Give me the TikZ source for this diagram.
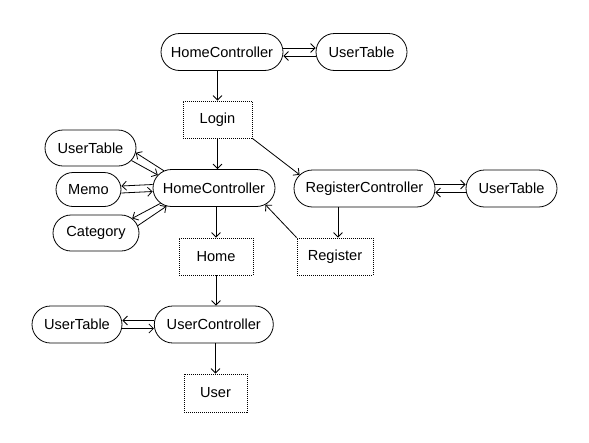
\documentclass[tikz,border=0pt]{standalone}
\usepackage{fontspec}
\setmainfont{Liberation Sans}
\usetikzlibrary{shapes.misc,arrows.meta,calc}
\begin{document}
\begin{tikzpicture}[x=1pt,y=-1pt,
  ctrl/.style={rounded rectangle, draw, line width=0.8pt, minimum height=37pt, inner xsep=0pt, inner ysep=0pt, font=\fontsize{14.6}{16}\selectfont},
  pagebox/.style={rectangle, draw, line width=0.8pt, dash pattern=on 1pt off 1pt, minimum height=37pt, inner xsep=0pt, inner ysep=0pt, font=\fontsize{14.6}{16}\selectfont},
  conn/.style={line width=0.8pt, -{Straight Barb[length=4.5pt,width=9pt]}}]
\useasboundingbox (0,0) rectangle (589,442);
\fill[white] (0,0) rectangle (589,442);

\node[ctrl, minimum width=122pt] (hc1) at (222,52) {HomeController};
\node[ctrl, minimum width=91pt] (ut2) at (361.5,52) {UserTable};
\node[pagebox, minimum width=69pt] (login) at (217.5,119.5) {Login};

\node[ctrl, minimum width=122pt] (hc2) at (214,188) {HomeController};
\node[ctrl, minimum width=91pt, minimum height=36pt] (ut1) at (90.5,148) {UserTable};
\node[ctrl, minimum width=65pt, minimum height=34pt] (memo) at (88.5,189.5) {Memo};
\node[ctrl, minimum width=86pt, minimum height=36pt] (cat) at (96,233) {Category};

\node[ctrl, minimum width=141pt] (rc) at (364.5,188.5) {RegisterController};
\node[ctrl, minimum width=91pt] (ut3) at (511.5,188.5) {UserTable};
\node[pagebox, minimum width=76pt] (reg) at (335,256.5) {Register};

\node[pagebox, minimum width=74pt] (home) at (216,256.5) {Home};

\node[ctrl, minimum width=119pt] (uc) at (213.8,324.5) {UserController};
\node[ctrl, minimum width=90pt] (ut4) at (77,324.5) {UserTable};
\node[pagebox, minimum width=63pt, minimum height=38pt] (user) at (215.5,393) {User};

% top row
\draw[conn] ([yshift=4pt]hc1.east) -- ([yshift=4pt]ut2.west);
\draw[conn] ([yshift=-4pt]ut2.west) -- ([yshift=-4pt]hc1.east);
\draw[conn] (hc1.south -| login.north) -- (login.north);

% login
\draw[conn] (login.south) -- (login.south |- hc2.north);
\draw[conn] (login.south east) -- (rc.168);

% left cluster
\draw[conn] (hc2.161) -- (ut1.-6);
\draw[conn] (ut1.-17) -- (hc2.167);
\draw[conn] ([yshift=3.5pt]hc2.west) -- ([yshift=3.5pt]memo.east);
\draw[conn] ([yshift=-3.5pt]memo.east) -- ([yshift=-3.5pt]hc2.west);
\draw[conn] (hc2.196) -- (cat.22);
\draw[conn] (cat.10) -- (hc2.201);

% register side
\draw[conn] ([yshift=4pt]rc.east) -- ([yshift=4pt]ut3.west);
\draw[conn] ([yshift=-4pt]ut3.west) -- ([yshift=-4pt]rc.east);
\draw[conn] ([xshift=3pt]reg.north |- rc.south) -- ([xshift=3pt]reg.north);
\draw[conn] (reg.north west) -- (hc2.-18);

% home / user
\draw[conn] (hc2.south -| home.north) -- (home.north);
\draw[conn] (home.south) -- (home.south |- uc.north);
\draw[conn] ([yshift=4pt]uc.west) -- ([yshift=4pt]ut4.east);
\draw[conn] ([yshift=-4pt]ut4.east) -- ([yshift=-4pt]uc.west);
\draw[conn] (uc.south -| user.north) -- (user.north);
\end{tikzpicture}
\end{document}
